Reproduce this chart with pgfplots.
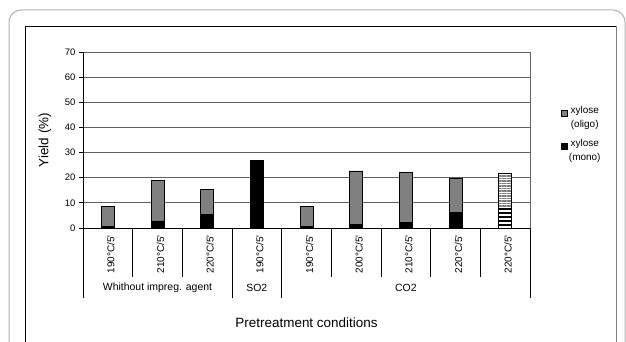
\documentclass[border=0pt]{standalone}
\usepackage{pgfplots}
\pgfplotsset{compat=1.18}
\usetikzlibrary{patterns.meta}
\usepackage{fontspec}
\setmainfont{Liberation Sans}
\definecolor{barg}{HTML}{808080}
\definecolor{gridg}{HTML}{606060}
\begin{document}
\begin{tikzpicture}[x=1bp,y=1bp]
\path[use as bounding box] (0,0) rectangle (626,341);
\draw[gray!60, line width=1bp, rounded corners=12bp] (9,-20) -- (9,331) -- (625,331) -- (625,-20);
\draw[black, line width=0.9bp] (25,-5) -- (25,315) -- (616,315);
\draw[gray, line width=0.9bp] (616,315) -- (616,-5);
\begin{axis}[
  at={(83bp,113bp)}, anchor=south west,
  scale only axis, width=447bp, height=176bp,
  ybar stacked, bar width=13bp,
  xmin=-0.5, xmax=8.5, ymin=0, ymax=70,
  ytick={0,10,...,70},
  ytick pos=left,
  ymajorgrids, major grid style={draw=gridg, line width=1bp},
  axis line style={draw=gridg, line width=1bp},
  tick align=outside,
  ytick style={draw=black, line width=0.8bp},
  major tick length=4bp,
  yticklabel style={font=\fontsize{9.5}{10}\selectfont},
  /pgf/number format/assume math mode=true,
  xtick={0,...,8},
  xtick style={draw=none},
  xticklabels={190°C/5\textquotesingle,210°C/5\textquotesingle,220°C/5\textquotesingle,190°C/5\textquotesingle,190°C/5\textquotesingle,200°C/5\textquotesingle,210°C/5\textquotesingle,220°C/5\textquotesingle,220°C/5\textquotesingle},
  xticklabel style={rotate=90, anchor=east, yshift=-3bp, font=\fontsize{10}{10}\selectfont},
  xlabel={Pretreatment conditions},
  ylabel={Yield (\%)},
  xlabel style={at={(axis description cs:0.5,-0.54)}, anchor=center, font=\fontsize{13.5}{15}\selectfont},
  ylabel style={at={(axis description cs:-0.085,0.5)}, anchor=center, font=\fontsize{13.5}{15}\selectfont},
  clip=false,
  reverse legend,
  legend style={draw=none, fill=none, at={(axis description cs:1.063,0.71)}, anchor=north west,
    font=\fontsize{10}{14}\selectfont, nodes={align=center, inner sep=1bp}, row sep=8bp},
  legend image code/.code={\draw[#1, draw=black, line width=0.6bp] (0bp,1bp) rectangle (6bp,7bp);},
]
\addplot[fill=black, draw=black, line width=0.8bp] coordinates {(0,0.5) (1,2.8) (2,5.4) (3,26.8) (4,0.7) (5,1.5) (6,2.1) (7,6.2) (8,0)};
\addplot[fill=barg, draw=black, line width=0.8bp] coordinates {(0,7.9) (1,16.2) (2,10.0) (3,0) (4,7.9) (5,21.2) (6,19.9) (7,13.6) (8,0)};
\addplot[forget plot, fill=white, draw=black, line width=0.8bp, postaction={pattern={Lines[angle=0, distance=4bp, line width=2bp]}, pattern color=black}] coordinates {(0,0) (1,0) (2,0) (3,0) (4,0) (5,0) (6,0) (7,0) (8,7.6)};
\addplot[forget plot, fill=white, draw=black, line width=0.8bp, postaction={pattern={Lines[angle=0, distance=2.5bp, line width=1.2bp]}, pattern color=barg}] coordinates {(0,0) (1,0) (2,0) (3,0) (4,0) (5,0) (6,0) (7,0) (8,14.0)};
\legend{xylose\\(mono), xylose\\(oligo)}
\draw[black, line width=1bp] (axis cs:-0.5,70) -- (axis cs:-0.5,0) -- (axis cs:8.5,0);
\pgfplotsinvokeforeach{0.5,1.5,4.5,5.5,6.5,7.5}{\draw[black, line width=0.8bp] (axis cs:#1,0) -- ++(0bp,-49bp);}
\pgfplotsinvokeforeach{-0.5,2.5,3.5,8.5}{\draw[black, line width=0.8bp] (axis cs:#1,0) -- ++(0bp,-70bp);}
\node[font=\fontsize{10.5}{12}\selectfont] at ([yshift=-60bp]axis cs:1,0) {Whithout impreg. agent};
\node[font=\fontsize{10.5}{12}\selectfont] at ([yshift=-60bp]axis cs:3,0) {SO2};
\node[font=\fontsize{10.5}{12}\selectfont] at ([yshift=-60bp]axis cs:6,0) {CO2};
\end{axis}
\end{tikzpicture}
\end{document}
